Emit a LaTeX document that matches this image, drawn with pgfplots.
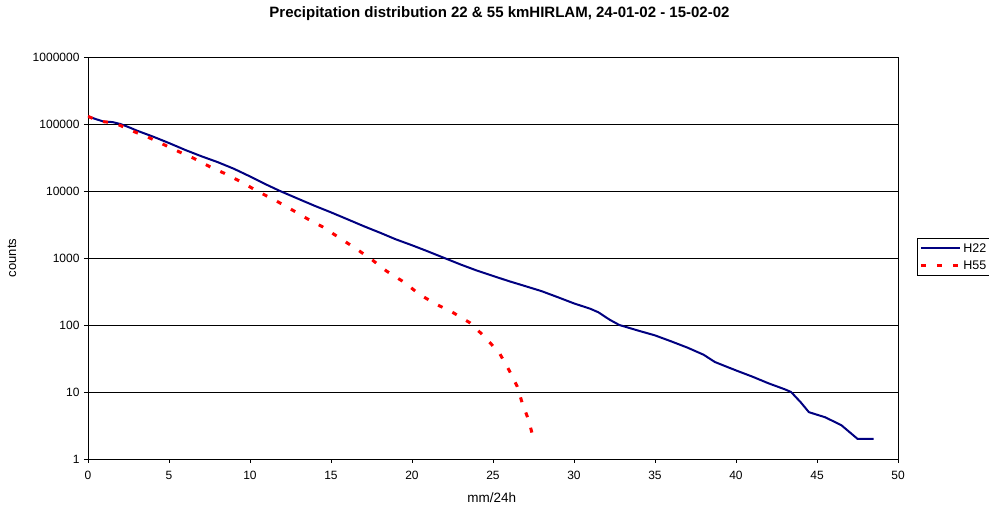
\documentclass[border=0pt]{standalone}
\usepackage{pgfplots}
\pgfplotsset{compat=1.18}
\usepackage{fontspec}
\setmainfont{Liberation Sans}
\definecolor{hblue}{RGB}{0,0,128}
\definecolor{hred}{RGB}{255,0,0}
\begin{document}
\begin{tikzpicture}
\path[use as bounding box] (-88pt,-45pt) rectangle (901pt,459pt);
\begin{axis}[
  at={(0pt,0pt)}, anchor=south west,
  scale only axis, width=810pt, height=402pt,
  xmin=0, xmax=50, ymin=1, ymax=1000000,
  ymode=log,
  xtick={0,5,...,50},
  ytick={1,10,100,1000,10000,100000,1000000},
  yticklabels={1,10,100,1000,10000,100000,1000000},
  yminorticks=false,
  /pgf/number format/assume math mode=true,
  tick align=outside,
  major tick length=4pt,
  xtick pos=bottom, ytick pos=left,
  tick style={black, line width=0.8pt},
  ymajorgrids,
  grid style={black, line width=0.8pt},
  axis line style={black, line width=0.9pt},
  tick label style={font=\fontsize{12}{14}\selectfont},
  yticklabel style={xshift=-1pt},
  xticklabel style={yshift=-5pt},
  title={\bfseries Precipitation distribution 22 \& 55 kmHIRLAM, 24-01-02 - 15-02-02},
  title style={at={(axis description cs:0.508,1.094)}, anchor=center, font=\fontsize{15}{17}\selectfont},
  xlabel={mm/24h},
  xlabel style={at={(axis description cs:0.4985,-0.097)}, anchor=center, font=\fontsize{13.5}{15}\selectfont},
  ylabel={counts},
  ylabel style={at={(axis description cs:-0.0938,0.5)}, anchor=center, font=\fontsize{13}{15}\selectfont},
  legend style={at={(axis description cs:1.0235,0.5498)}, anchor=north west, draw=black, line width=0.8pt,
    font=\fontsize{12.5}{14}\selectfont, inner xsep=2pt, inner ysep=3pt, row sep=3pt},
  legend cell align=left,
  legend image code/.code={\draw[#1] (0pt,0pt) -- (39pt,0pt);},
]
\addplot[hblue, line width=2pt] coordinates {
(0,130000) (0.5,118000) (1,108000) (1.5,107000) (2,100000) (2.5,90000) (3,80000)
(4,65000) (5,52000) (6,41000) (7,33000) (8,27000) (9,21500) (10,16500) (11,12500)
(11.85,10000) (13,7600) (14,6000) (15,4800) (16,3800) (17,3000) (18,2400) (19,1900)
(20,1550) (21,1250) (22,1000) (23,800) (24,650) (25,540) (26,450) (27,380) (28,320)
(29,260) (30,210) (31,175) (31.5,155) (32.2,120) (32.8,100) (34,82) (35,70) (36,57)
(37,46) (38,36) (38.7,28) (40,21) (41,17) (42,13.5) (43,11) (43.4,10) (44,7)
(44.5,5) (45.5,4.2) (46.5,3.2) (47.5,2) (48.5,2)
};
\addlegendentry{H22}
\addplot[hred, line width=3pt, dash pattern=on 5pt off 11pt] coordinates {
(0,130000) (0.5,115000) (1,108000) (1.5,105000) (2,95000) (2.6,81000) (3.62,65000)
(4.55,51000) (5.57,39000) (6.5,31000) (7.53,23000) (8.5,18000) (9.5,13500)
(10.5,9800) (11.5,7400) (12.5,5400) (13.5,3900) (14.5,2900) (15.45,2050) (16.5,1400)
(17.5,955) (18.4,645) (19.5,437) (20.5,282) (21.5,204) (22.5,155) (23.6,107)
(24.5,66) (25.4,38) (26,21) (26.5,12) (26.8,6.9) (27.2,3.8) (27.5,2)
};
\addlegendentry{H55}
\end{axis}
\end{tikzpicture}
\end{document}
